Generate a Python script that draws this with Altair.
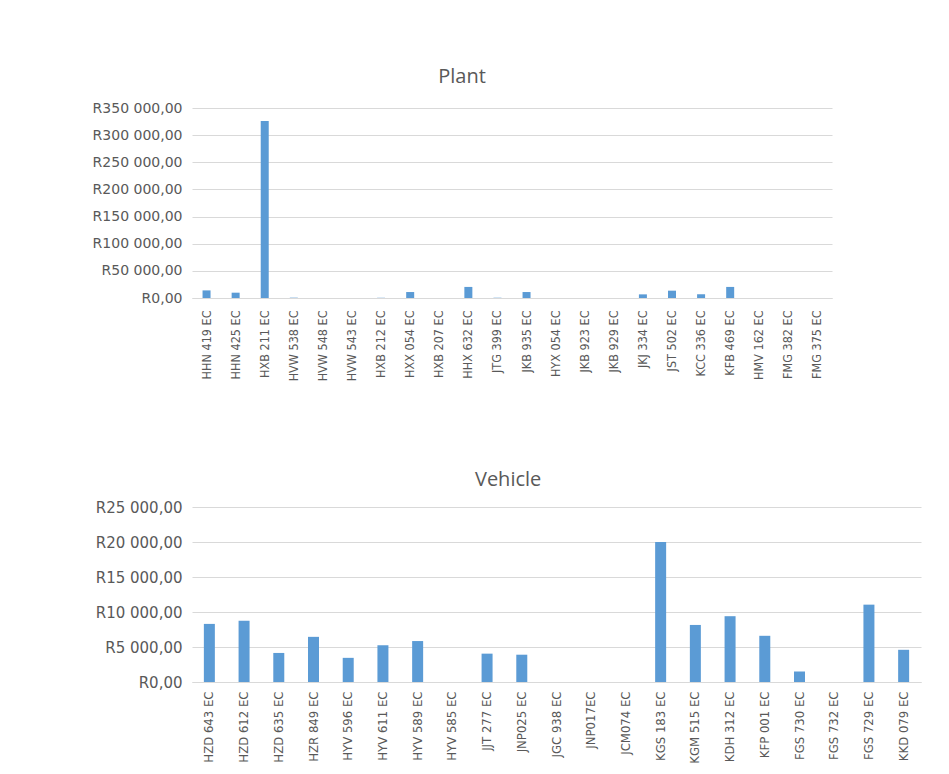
import altair as alt
import pandas as pd

plant_names = ["HHN 419 EC", "HHN 425 EC", "HXB 211 EC", "HVW 538 EC", "HVW 548 EC",
               "HVW 543 EC", "HXB 212 EC", "HXX 054 EC", "HXB 207 EC", "HHX 632 EC",
               "JTG 399 EC", "JKB 935 EC", "HYX 054 EC", "JKB 923 EC", "JKB 929 EC",
               "JKJ 334 EC", "JST 502 EC", "KCC 336 EC", "KFB 469 EC", "HMV 162 EC",
               "FMG 382 EC", "FMG 375 EC"]
plant_values = [14000, 9800, 326000, 600, 0,
                0, 400, 11000, 0, 20400,
                500, 11000, 0, 0, 0,
                6700, 13500, 6700, 20400, 0,
                0, 0]

vehicle_names = ["HZD 643 EC", "HZD 612 EC", "HZD 635 EC", "HZR 849 EC", "HYV 596 EC",
                 "HYV 611 EC", "HYV 589 EC", "HYV 585 EC", "JJT 277 EC", "JNP025 EC",
                 "JGC 938 EC", "JNP017EC", "JCM074 EC", "KGS 183 EC", "KGM 515 EC",
                 "KDH 312 EC", "KFP 001 EC", "FGS 730 EC", "FGS 732 EC", "FGS 729 EC",
                 "KKD 079 EC"]
vehicle_values = [8300, 8750, 4150, 6450, 3450,
                  5250, 5850, 0, 4050, 3900,
                  0, 0, 0, 20000, 8150,
                  9400, 6600, 1500, 0, 11050,
                  4600]

plant_ticks = [0, 50000, 100000, 150000, 200000, 250000, 300000, 350000]
vehicle_ticks = [0, 5000, 10000, 15000, 20000, 25000]

BLUE = "#5B9BD5"
TEXT = "#595959"
GRID = "#D9D9D9"
XFONT = "'DejaVu Sans Condensed', 'Liberation Sans', sans-serif"
LABEL_EXPR = "'R' + replace(replace(format(datum.value, ',.2f'), ',', ' '), '.', ',')"

plant_df = pd.DataFrame({"name": plant_names, "value": plant_values})
vehicle_df = pd.DataFrame({"name": vehicle_names, "value": vehicle_values})


def make_chart(df, names, ticks, title, width, height, bar_size, xfont, xpad, yfont, toffset):
    return alt.Chart(df).mark_bar(size=bar_size, color=BLUE).encode(
        x=alt.X("name:N", sort=names, title=None,
                axis=alt.Axis(labelAngle=-90, labelFont=XFONT,
                              labelFontSize=xfont, labelColor=TEXT, ticks=False,
                              domainColor=GRID, labelPadding=xpad)),
        y=alt.Y("value:Q", title=None,
                scale=alt.Scale(domain=[ticks[0], ticks[-1]], nice=False),
                axis=alt.Axis(values=ticks, labelExpr=LABEL_EXPR, labelFont="DejaVu Sans",
                              labelFontSize=yfont, labelColor=TEXT, ticks=False,
                              domain=False, gridColor=GRID, labelPadding=10)),
    ).properties(
        width=width, height=height,
        title=alt.TitleParams(title, fontSize=20, font="Open Sans", fontWeight="normal",
                              color=TEXT, anchor="middle", frame="bounds", offset=toffset),
    )


plant = make_chart(plant_df, plant_names, plant_ticks, "Plant", 640, 190, 8, 12.5, 12, 14, 14)
vehicle = make_chart(vehicle_df, vehicle_names, vehicle_ticks, "Vehicle", 729, 175, 11, 13, 9, 15, 10)

chart = alt.vconcat(plant, vehicle, spacing=89).properties(
    padding={"left": 92, "top": 67, "right": 10, "bottom": 5}
).configure(background="white").configure_view(stroke=None)

chart.save("out.html", embed_options={"renderer": "svg", "actions": False})
